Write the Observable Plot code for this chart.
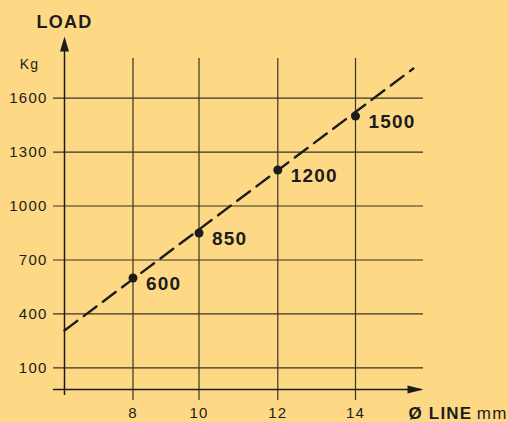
<!DOCTYPE html>
<html>
<head>
<meta charset="utf-8">
<script src="https://cdn.jsdelivr.net/npm/d3@7"></script>
<script src="https://cdn.jsdelivr.net/npm/@observablehq/plot@0.6"></script>
<style>
  html, body { margin: 0; padding: 0; background: #FDD985; }
  #chart { width: 508px; height: 422px; overflow: hidden; }
</style>
</head>
<body>
<div id="chart"></div>
<script>
// Data
const diameters = [8, 10, 12, 14];          // Ø LINE mm
const loads = [600, 850, 1200, 1500];       // LOAD Kg
const loadLabels = ["600", "850", "1200", "1500"];
const xTicks = [8, 10, 12, 14];
const yTicks = [100, 400, 700, 1000, 1300, 1600];
// dashed trend line end points
const trendX = [6, 15.7];
const trendY = [308, 1764];
// scale extents (the reference's x axis is drawn unevenly: piecewise scale)
const xDomain = [6, 8, 10, 12, 14, 16];
const yDomain = [-20, 1820];

const ink = "#1c1c1c";
const grid = "#3a3324";
const font = "'Liberation Sans', Arial, Helvetica, sans-serif";

const points = diameters.map((d, i) => ({x: d, y: loads[i], label: loadLabels[i]}));
const trend = trendX.map((x, i) => ({x, y: trendY[i]}));
const xMin = xDomain[0], xMax = xDomain[xDomain.length - 1];

const chart = Plot.plot({
  width: 508,
  height: 422,
  marginLeft: 64,
  marginRight: 85,
  marginTop: 58,
  marginBottom: 33,
  x: {type: "linear", domain: xDomain, range: [64, 132.5, 198.5, 277.3, 355, 423]},
  y: {domain: yDomain},
  style: {background: "#FDD985", fontFamily: font, color: ink, overflow: "visible"},
  marks: [
    // grid
    Plot.ruleX(xTicks, {stroke: grid, strokeWidth: 1.2, insetBottom: -11}),
    Plot.ruleY(yTicks, {stroke: grid, strokeWidth: 1.2, insetLeft: -11}),
    // axis lines
    Plot.ruleX([xMin], {stroke: ink, strokeWidth: 1.5, insetTop: -8, insetBottom: -6}),
    Plot.ruleY([yDomain[0]], {stroke: ink, strokeWidth: 1.5, insetLeft: -11, insetRight: 2}),
    // arrow heads
    Plot.vector([0], {x: xMin, y: yDomain[1], dy: -22, length: 15, r: 4.5, shape: "spike", anchor: "end", rotate: 0, fill: ink, stroke: "none"}),
    Plot.vector([0], {x: xMax, y: yDomain[0], length: 16, r: 4, shape: "spike", anchor: "end", rotate: 90, fill: ink, stroke: "none"}),
    // tick labels
    Plot.axisY({ticks: yTicks, tickFormat: d => String(d), tickSize: 0, tickPadding: 17, fontSize: 15, label: null, fill: ink}),
    Plot.axisX({ticks: xTicks, tickFormat: d => String(d), tickSize: 0, tickPadding: 18, fontSize: 15, label: null, fill: ink}),
    // dashed line
    Plot.line(trend, {x: "x", y: "y", stroke: ink, strokeWidth: 2.4, strokeDasharray: "16,8"}),
    // points
    Plot.dot(points, {x: "x", y: "y", r: 4.5, fill: ink, stroke: "none"}),
    Plot.text(points, {x: "x", y: "y", text: "label", textAnchor: "start", dx: 13, dy: 6, fontSize: 19, fontWeight: "bold", fill: ink}),
    // axis titles
    Plot.text(["LOAD"], {frameAnchor: "top-left", dy: -36, textAnchor: "middle", lineAnchor: "middle", fontSize: 18, fontWeight: "bold", fill: ink}),
    Plot.text(["Kg"], {frameAnchor: "top-left", dx: -35, dy: 6, textAnchor: "middle", lineAnchor: "middle", fontSize: 14, fill: ink}),
    Plot.text(["Ø LINE"], {frameAnchor: "bottom-right", dx: -15, dy: 24, textAnchor: "start", lineAnchor: "middle", fontSize: 17, fontWeight: "bold", fill: ink}),
    Plot.text(["mm"], {frameAnchor: "bottom-right", dx: 84, dy: 24, textAnchor: "end", lineAnchor: "middle", fontSize: 17, fill: ink})
  ]
});
chart.style.letterSpacing = "1.2px";
document.getElementById("chart").appendChild(chart);
</script>
</body>
</html>
